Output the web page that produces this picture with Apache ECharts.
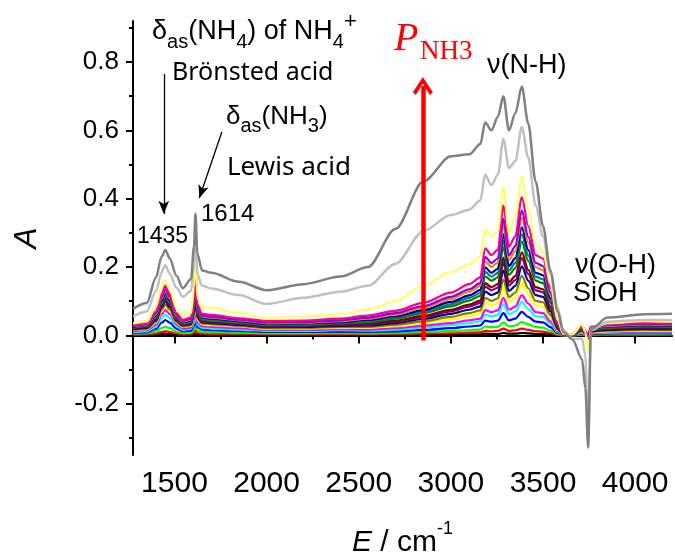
<!DOCTYPE html>
<html>
<head>
<meta charset="utf-8">
<script src="https://cdn.jsdelivr.net/npm/echarts@6/dist/echarts.min.js"></script>
<style>
  html, body { margin: 0; padding: 0; background: #fff; }
  #chart { width: 675px; height: 552px; }
</style>
</head>
<body>
<div id="chart"></div>
<script>
// wavenumber grid (cm-1)
const energy = [1275, 1350, 1400, 1430, 1450, 1475, 1510, 1545, 1590, 1606,
  1614, 1624, 1650, 1700, 1850, 2000, 2200, 2400, 2550, 2700,
  2850, 3000, 3100, 3160, 3186, 3220, 3255, 3285, 3315, 3350,
  3385, 3420, 3460, 3500, 3540, 3580, 3610, 3660, 3712, 3730,
  3745, 3760, 3850, 4050, 4200];

// absorbance, one spectrum per NH3 pressure (lowest first)
const aBlack = [.001,.001,.002,.004,.005,.004,.002,.001,.001,.003,.005,.002,.002,.001,.001,.001,.001,.001,
  .001,.001,.002,.002,.003,.003,.005,.004,.004,.007,.005,.005,.007,.006,.004,.004,.002,.001,.000,
  .000,.001,.000,.000,.000,.001,.001,.001];
const aRed = [.002,.003,.005,.010,.012,.010,.005,.003,.004,.008,.015,.007,.005,.004,.004,.003,.003,.003,
  .003,.004,.005,.006,.008,.009,.013,.012,.013,.020,.013,.015,.020,.016,.012,.011,.007,.002,.000,
  .000,.002,.001,.000,.001,.002,.002,.002];
const aGreen = [.005,.006,.011,.021,.025,.021,.011,.007,.008,.016,.030,.014,.010,.009,.008,.006,.006,.007,
  .006,.007,.010,.013,.015,.017,.026,.024,.025,.038,.026,.029,.039,.032,.024,.023,.014,.004,.001,
  .000,.003,.001,.000,.003,.004,.004,.004];
const aBlue = [.008,.009,.019,.037,.045,.037,.020,.012,.014,.028,.050,.024,.017,.015,.013,.010,.010,.011,
  .010,.012,.016,.021,.026,.029,.043,.040,.043,.065,.044,.049,.069,.054,.040,.038,.024,.007,.001,
  .000,.005,.002,.000,.004,.006,.007,.006];
const aCyan = [.010,.012,.025,.050,.060,.050,.027,.016,.019,.036,.065,.031,.022,.020,.017,.013,.013,.015,
  .014,.017,.023,.030,.036,.041,.061,.056,.060,.091,.062,.070,.098,.077,.056,.054,.034,.010,.001,
  .001,.007,.003,.000,.006,.008,.009,.009];
const aMagenta = [.012,.015,.031,.061,.075,.062,.033,.020,.023,.045,.080,.038,.027,.025,.021,.016,.016,.018,
  .017,.021,.028,.036,.044,.049,.074,.068,.073,.110,.075,.084,.118,.093,.068,.065,.041,.012,.001,
  .001,.009,.003,.000,.007,.010,.011,.011];
const aYellow = [.015,.018,.037,.070,.085,.071,.038,.024,.028,.055,.100,.046,.032,.030,.026,.019,.020,.022,
  .022,.027,.036,.047,.056,.064,.096,.088,.094,.143,.098,.109,.152,.120,.088,.084,.053,.015,.002,
  .001,.011,.004,.000,.009,.012,.014,.013];
const aDarkYellow = [.016,.020,.040,.074,.090,.075,.040,.026,.030,.060,.110,.050,.035,.033,.028,.021,.022,.025,
  .025,.031,.041,.054,.065,.073,.110,.101,.108,.163,.112,.125,.174,.138,.101,.097,.060,.017,.002,
  .001,.013,.005,.000,.011,.014,.016,.015];
const aNavy = [.018,.022,.044,.082,.100,.083,.044,.029,.033,.065,.120,.054,.038,.036,.031,.024,.025,.028,
  .029,.036,.048,.063,.075,.085,.128,.118,.125,.190,.130,.145,.202,.160,.118,.113,.070,.020,.002,
  .001,.015,.006,.000,.012,.016,.019,.018];
const aPurple = [.020,.024,.047,.086,.105,.087,.046,.030,.035,.070,.130,.058,.040,.038,.033,.026,.027,.031,
  .032,.040,.053,.070,.084,.095,.143,.132,.140,.213,.146,.162,.226,.179,.132,.126,.078,.022,.003,
  .002,.017,.006,.000,.014,.018,.021,.020];
const aWine = [.021,.025,.049,.090,.110,.091,.048,.032,.037,.075,.140,.062,.043,.041,.035,.028,.029,.033,
  .035,.043,.057,.075,.090,.102,.153,.141,.150,.228,.156,.174,.243,.192,.141,.135,.084,.024,.003,
  .002,.018,.007,.000,.015,.020,.023,.022];
const aOlive = [.022,.026,.052,.094,.115,.095,.050,.034,.039,.080,.150,.066,.046,.043,.037,.030,.031,.035,
  .039,.049,.065,.085,.102,.116,.173,.160,.170,.258,.177,.197,.275,.218,.160,.153,.095,.027,.003,
  .002,.020,.008,.000,.017,.022,.026,.024];
const aDarkCyan = [.024,.028,.055,.098,.120,.099,.052,.036,.041,.085,.160,.070,.049,.046,.039,.032,.033,.037,
  .042,.053,.069,.091,.110,.124,.186,.172,.183,.277,.190,.212,.296,.234,.172,.164,.102,.029,.004,
  .002,.022,.008,.000,.019,.024,.028,.026];
const aRoyal = [.025,.029,.058,.102,.125,.103,.054,.038,.043,.090,.170,.074,.052,.049,.041,.034,.035,.039,
  .045,.056,.074,.098,.117,.133,.199,.183,.195,.296,.203,.226,.316,.250,.183,.176,.109,.031,.004,
  .002,.024,.009,.000,.020,.026,.030,.028];
const aOrange = [.027,.031,.062,.108,.130,.108,.057,.040,.046,.095,.180,.078,.055,.052,.044,.036,.037,.042,
  .049,.061,.081,.106,.128,.145,.217,.200,.213,.323,.221,.247,.344,.272,.200,.191,.119,.034,.004,
  .003,.026,.010,.000,.022,.028,.032,.030];
const aViolet = [.028,.033,.065,.112,.135,.112,.060,.042,.048,.100,.190,.082,.058,.055,.046,.038,.039,.044,
  .052,.065,.086,.113,.135,.153,.230,.212,.225,.342,.234,.261,.366,.288,.212,.203,.126,.036,.005,
  .003,.028,.011,.000,.023,.030,.034,.032];
const aPink = [.030,.035,.070,.120,.145,.120,.065,.045,.052,.110,.210,.090,.063,.060,.050,.042,.043,.049,
  .058,.072,.095,.125,.150,.170,.255,.235,.250,.380,.260,.290,.405,.320,.235,.225,.140,.040,.005,
  .003,.030,.012,.000,.025,.032,.037,.035];
const aLightYellow = [.035,.040,.085,.140,.160,.135,.080,.060,.065,.140,.260,.110,.082,.080,.065,.050,.055,.062,
  .075,.100,.145,.185,.208,.230,.310,.290,.305,.435,.300,.345,.466,.370,.265,.245,.150,.045,.005,
  .003,.032,.010,-.050,.020,.036,.042,.040];
const aLightGray = [.055,.070,.130,.185,.205,.180,.140,.113,.130,.210,.300,.180,.145,.137,.118,.092,.110,.128,
  .145,.210,.305,.352,.368,.395,.470,.440,.470,.575,.490,.510,.610,.520,.380,.290,.180,.080,.015,
  -.010,-.010,-.060,-.300,.015,.040,.045,.045];
const aDarkGray = [.078,.095,.170,.230,.250,.225,.175,.138,.165,.260,.356,.240,.190,.183,.157,.132,.150,.172,
  .200,.312,.450,.524,.530,.560,.623,.600,.640,.700,.600,.650,.728,.620,.450,.320,.190,.070,.010,
  -.012,-.070,-.155,-.328,.018,.052,.062,.063];

const spectra = [aBlack, aRed, aGreen, aBlue, aCyan, aMagenta, aYellow, aDarkYellow, aNavy, aPurple,
  aWine, aOlive, aDarkCyan, aRoyal, aOrange, aViolet, aPink, aLightYellow, aLightGray, aDarkGray];
const lineColors = ['#000000', '#ff0000', '#00ff00', '#0000ff', '#00ffff', '#ff00ff', '#ffff00', '#808000',
  '#000080', '#800080', '#800000', '#008000', '#008080', '#0000a0', '#ff8000', '#8000ff', '#ff0080',
  '#ffff66', '#c0c0c0', '#808080'];

const xMajor = [1500, 2000, 2500, 3000, 3500, 4000];
const xMinor = [1750, 2250, 2750, 3250, 3750];
const yMajor = [-0.2, 0, 0.2, 0.4, 0.6, 0.8];
const yMinor = [-0.3, -0.1, 0.1, 0.3, 0.5, 0.7, 0.9];

const SANS = "'Liberation Sans', Arial, sans-serif";
const HUMAN = "'Noto Sans', 'Open Sans', sans-serif";
const SERIF = "'Liberation Serif', 'Times New Roman', serif";
const X_MIN = 1275, X_MAX = 4200, Y_MIN = -0.35, Y_MAX = 0.92;

const chevron = 'path://M0,15 L10,0 L20,15 L17,17.5 L10,6.5 L3,17.5 Z';

let series = spectra.map((vals, i) => ({
    type: 'line',
    data: energy.map((e, j) => [e, vals[j]]),
    showSymbol: false,
    smooth: 0.3,
    smoothMonotone: 'x',
    silent: true,
    lineStyle: { color: lineColors[i], width: i >= 18 ? 2.5 : 2.2 }
}));

function arrowSeries(from, to, color, width, sym, symSize) {
    return {
        type: 'line',
        data: [],
        markLine: {
            silent: true,
            animation: false,
            symbol: ['none', sym],
            symbolSize: symSize,
            label: { show: false },
            lineStyle: { color: color, width: width, type: 'solid' },
            data: [[{ coord: from }, { coord: to }]]
        }
    };
}
series.push(arrowSeries([2848, -0.015], [2848, 0.73], '#ff0000', 4.5, chevron, [20, 18]));
series.push(arrowSeries([1442, 0.765], [1442, 0.356], '#000', 1.3, 'arrow', [8, 13]));
series.push(arrowSeries([1757, 0.595], [1635, 0.402], '#000', 1.3, 'arrow', [8, 13]));

function subText(parts, left, top, size, lh) {
    return {
        type: 'text', left: left, top: top, silent: true,
        style: {
            text: parts,
            rich: {
                n: { fontSize: size, fontFamily: SANS, fill: '#000', lineHeight: lh },
                sub: { fontSize: Math.round(size * 0.75), fontFamily: SANS, fill: '#000', verticalAlign: 'bottom' },
                sup: { fontSize: Math.round(size * 0.8), fontFamily: SANS, fill: '#000', verticalAlign: 'top' }
            }
        }
    };
}
function plainText(txt, left, top, size, family, color, italic) {
    return {
        type: 'text', left: left, top: top, silent: true,
        style: { text: txt, fontSize: size, fontFamily: family, fill: color || '#000', fontStyle: italic ? 'italic' : 'normal' }
    };
}

const chartOption = {
    animation: false,
    backgroundColor: '#fff',
    grid: { left: 133, right: 3, top: 21, bottom: 97, outerBoundsMode: 'none' },
    xAxis: [{
        type: 'value', min: X_MIN, max: X_MAX,
        name: '{i|E}{n| / cm}{s|-1}',
        nameLocation: 'middle', nameGap: 65,
        nameTextStyle: {
            rich: {
                i: { fontSize: 30, fontFamily: SANS, fontStyle: 'italic', color: '#000', lineHeight: 46 },
                n: { fontSize: 30, fontFamily: SANS, color: '#000' },
                s: { fontSize: 18, fontFamily: SANS, color: '#000', verticalAlign: 'top' }
            }
        },
        axisLine: { lineStyle: { color: '#000', width: 2 } },
        axisTick: { customValues: xMajor, length: 8, lineStyle: { color: '#000', width: 2 } },
        axisLabel: { customValues: xMajor, margin: 14, fontSize: 30, fontFamily: SANS, color: '#000',
            formatter: v => String(v) },
        splitLine: { show: false }
    }, {
        type: 'value', min: X_MIN, max: X_MAX, position: 'bottom',
        axisLine: { show: false },
        axisTick: { customValues: xMinor, length: 4, lineStyle: { color: '#000', width: 2 } },
        axisLabel: { show: false },
        splitLine: { show: false }
    }],
    yAxis: [{
        type: 'value', min: Y_MIN, max: Y_MAX,
        name: 'A', nameLocation: 'middle', nameGap: 90,
        nameTextStyle: { fontSize: 32, fontFamily: SANS, fontStyle: 'italic', color: '#000' },
        axisLine: { show: true, lineStyle: { color: '#000', width: 2 } },
        axisTick: { show: true, customValues: yMajor, length: 7, lineStyle: { color: '#000', width: 2 } },
        axisLabel: { customValues: yMajor, margin: 14, fontSize: 26, fontFamily: SANS, color: '#000',
            formatter: v => v.toFixed(1) },
        splitLine: { show: false }
    }, {
        type: 'value', min: Y_MIN, max: Y_MAX, position: 'left',
        axisLine: { show: false },
        axisTick: { show: true, customValues: yMinor, length: 4, lineStyle: { color: '#000', width: 2 } },
        axisLabel: { show: false },
        splitLine: { show: false }
    }],
    graphic: [
        subText('{n|δ}{sub|as}{n|(NH}{sub|4}{n|) of NH}{sub|4}{sup|+}', 152, 11, 27, 41),
        plainText('Brönsted acid', 172, 60, 25, HUMAN),
        subText('{n|δ}{sub|as}{n|(NH}{sub|3}{n|)}', 226, 104, 26, 38),
        plainText('Lewis acid', 227, 155, 26, HUMAN),
        plainText('1614', 201, 202, 24, SANS),
        plainText('1435', 137, 225, 23, SANS),
        plainText('P', 394, 19, 40, SERIF, '#ff0000', true),
        plainText('NH3', 420, 38, 27, SERIF, '#ff0000'),
        plainText('ν(N-H)', 487, 52, 27, SANS),
        plainText('ν(O-H)', 575, 252, 27, SANS),
        plainText('SiOH', 573, 280, 27, SANS)
    ],
    series: series
};

const irChart = echarts.init(document.getElementById('chart'));
irChart.setOption(chartOption);
</script>
</body>
</html>
